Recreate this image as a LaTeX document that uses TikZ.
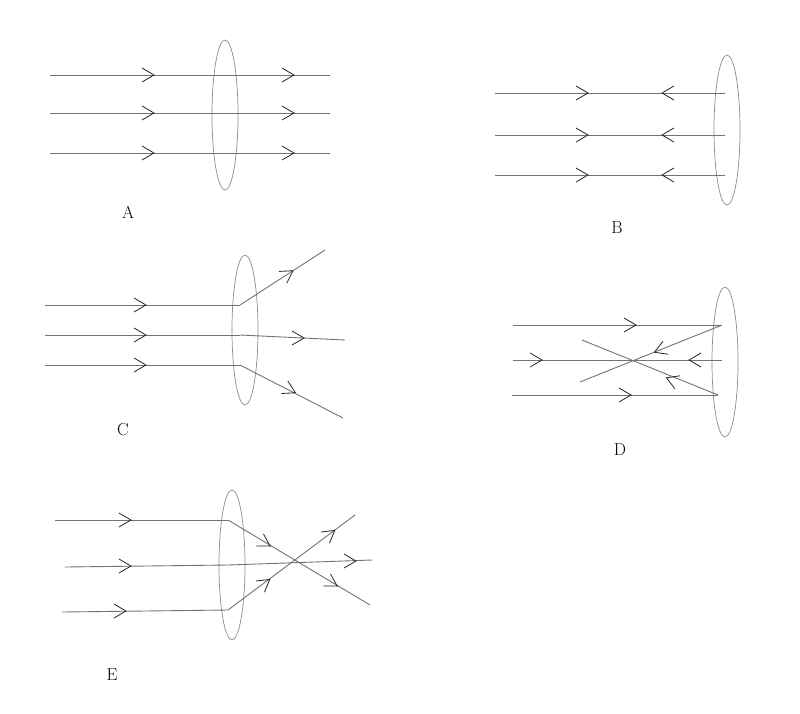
\documentclass[tikz,border=0pt]{standalone}
\begin{document}
\begin{tikzpicture}[x=1pt,y=-1pt,
  ray/.style={draw=black!55,line width=0.9pt},
  lensst/.style={draw=black!45,line width=0.7pt},
  lbl/.style={font=\LARGE},
  chev/.pic={\draw[black!85,line width=0.8pt] (-6,-7)--(6,0)--(-6,7);}]
\useasboundingbox (0,0) rectangle (800,713);
% A
\draw[lensst] (225,115) ellipse (13 and 75);
\foreach \y in {75,113,153}{\draw[ray] (50,\y)--(330,\y);
  \pic at (148,\y) {chev}; \pic at (288,\y) {chev};}
\node[lbl] (la) at (128,212) {A};
% B
\draw[lensst] (727,130) ellipse (13 and 75);
\foreach \y in {93,135,175}{\draw[ray] (495,\y)--(725,\y);
  \pic at (582,\y) {chev}; \pic[rotate=180] at (668,\y) {chev};}
\node[lbl] (lb) at (617,228) {B};
% C
\draw[lensst] (245,330) ellipse (13 and 75);
\foreach \y in {305,335,365}{\draw[ray] (45,\y)--(240,\y); \pic at (140,\y) {chev};}
\draw[ray] (240,305)--(325,250); \pic[rotate=33] at (288,274) {chev};
\draw[ray] (240,335)--(345,340); \pic at (298,338) {chev};
\draw[ray] (240,365)--(343,418); \pic[rotate=-27] at (290,390) {chev};
\node[lbl] (lc) at (123,430) {C};
% D
\draw[lensst] (725,362) ellipse (13 and 75);
\draw[ray] (513,325)--(722,325); \pic at (630,325) {chev};
\draw[ray] (513,360)--(722,360); \pic at (536,360) {chev}; \pic[rotate=180] at (695,360) {chev};
\draw[ray] (512,395)--(718,395); \pic at (625,395) {chev};
\draw[ray] (722,325)--(580,382); \pic[rotate=202] at (660,350) {chev};
\draw[ray] (718,395)--(582,340); \pic[rotate=158] at (672,380) {chev};
\node[lbl] (ld) at (620,450) {D};
% E
\draw[lensst] (232,565) ellipse (13 and 75);
\draw[ray] (55,520)--(228,520); \pic at (125,520) {chev};
\draw[ray] (65,567)--(228,565); \pic at (125,566) {chev};
\draw[ray] (62,612)--(228,610); \pic at (120,611) {chev};
\draw[ray] (228,520)--(370,605); \pic[rotate=-31] at (265,543) {chev}; \pic[rotate=-31] at (332,583) {chev};
\draw[ray] (228,610)--(355,515); \pic[rotate=37] at (265,583) {chev}; \pic[rotate=37] at (330,534) {chev};
\draw[ray] (228,565)--(372,560); \pic at (350,561) {chev};
\node[lbl] (le) at (112,675) {E};
\end{tikzpicture}
\end{document}
